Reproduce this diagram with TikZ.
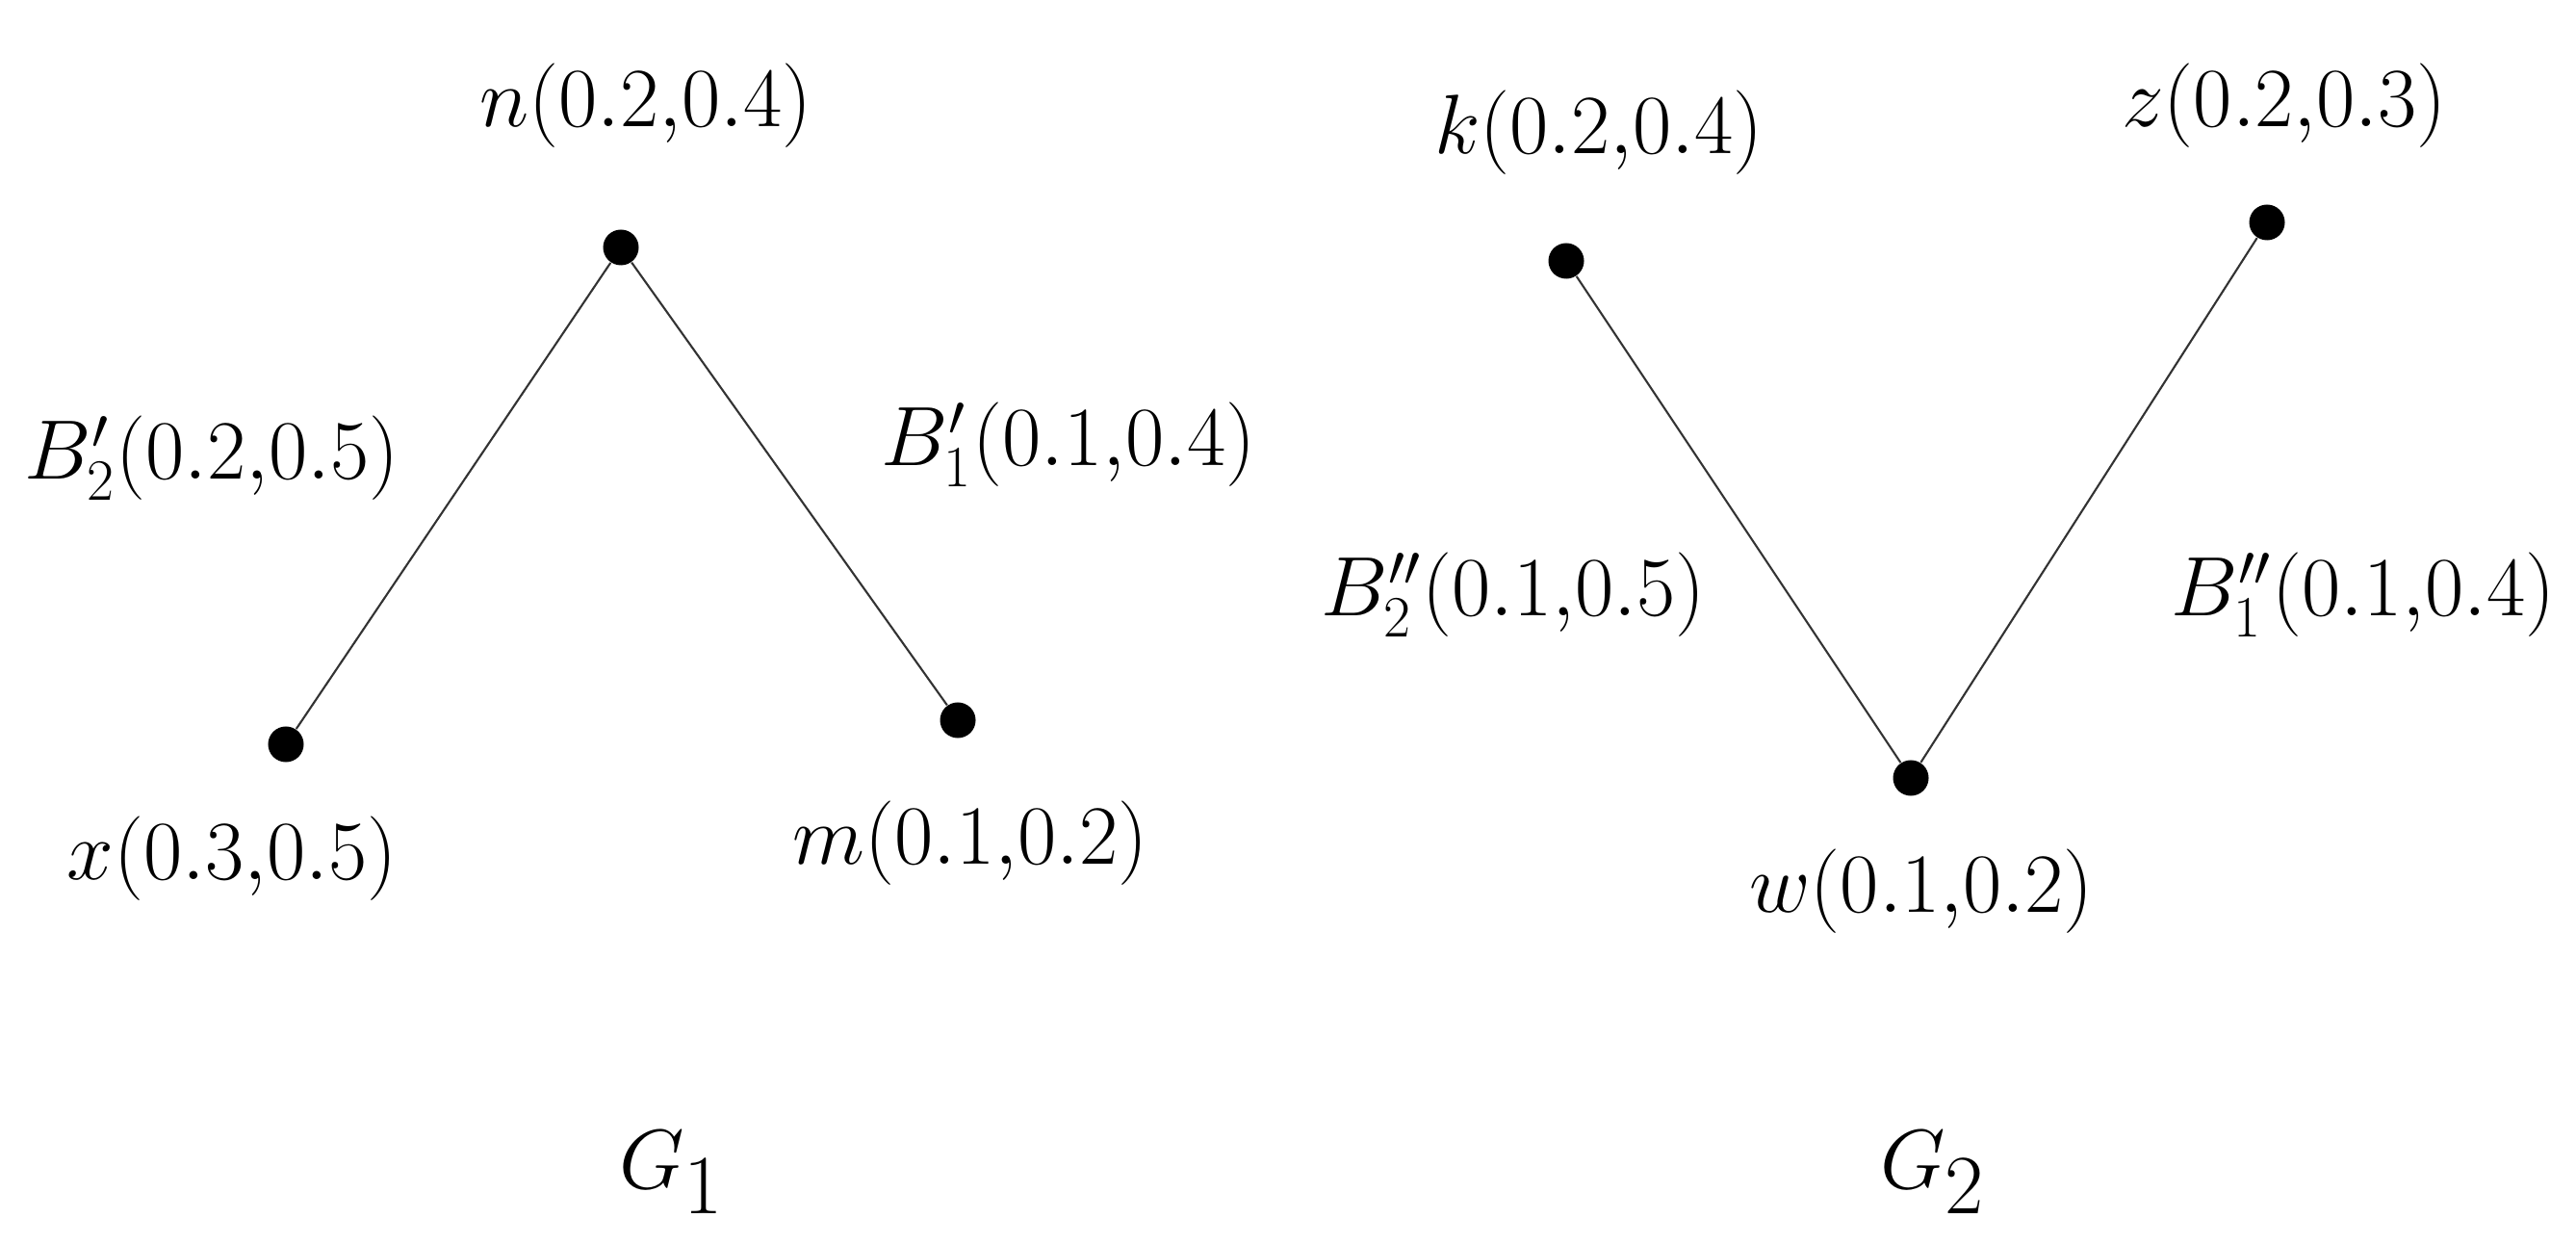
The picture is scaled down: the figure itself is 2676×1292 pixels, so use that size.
\documentclass[tikz,border=0pt]{standalone}
\begin{document}
\begin{tikzpicture}[x=0.01cm,y=-0.01cm,
  dot/.style={circle,fill=black,inner sep=0pt,minimum size=0.37cm},
  lbl/.style={inner sep=0pt,anchor=base,font=\fontsize{23}{27}\selectfont},
  glbl/.style={inner sep=0pt,anchor=base,font=\fontsize{34}{40}\selectfont},
  edge/.style={draw=black!80,line width=0.6pt}]
\useasboundingbox (0,0) rectangle (2676,1292);
% G1
\node[dot] (n) at (645,257) {};
\node[dot] (x) at (297,773) {};
\node[dot] (m) at (995,748) {};
\draw[edge] (n) -- (x);
\draw[edge] (n) -- (m);
\node[lbl] (ln) at (671,132) {$n(0.2{,}0.4)$};
\node[lbl] (lb2) at (220,498) {$B_2'(0.2{,}0.5)$};
\node[lbl] (lb1) at (1110,484) {$B_1'(0.1{,}0.4)$};
\node[lbl] (lx) at (241,913) {$x(0.3{,}0.5)$};
\node[lbl] (lm) at (1008,897) {$m(0.1{,}0.2)$};
\node[glbl] (g1) at (698,1234) {$G_1$};
% G2
\node[dot] (k) at (1627,271) {};
\node[dot] (z) at (2355,231) {};
\node[dot] (w) at (1985,808) {};
\draw[edge] (k) -- (w);
\draw[edge] (z) -- (w);
\node[lbl] (lk) at (1661,160) {$k(0.2{,}0.4)$};
\node[lbl] (lz) at (2373,132) {$z(0.2{,}0.3)$};
\node[lbl] (lbb2) at (1572,640) {$B_2''(0.1{,}0.5)$};
\node[lbl] (lbb1) at (2455,640) {$B_1''(0.1{,}0.4)$};
\node[lbl] (lw) at (1996,948) {$w(0.1{,}0.2)$};
\node[glbl] (g2) at (2008,1234) {$G_2$};
\end{tikzpicture}
\end{document}
